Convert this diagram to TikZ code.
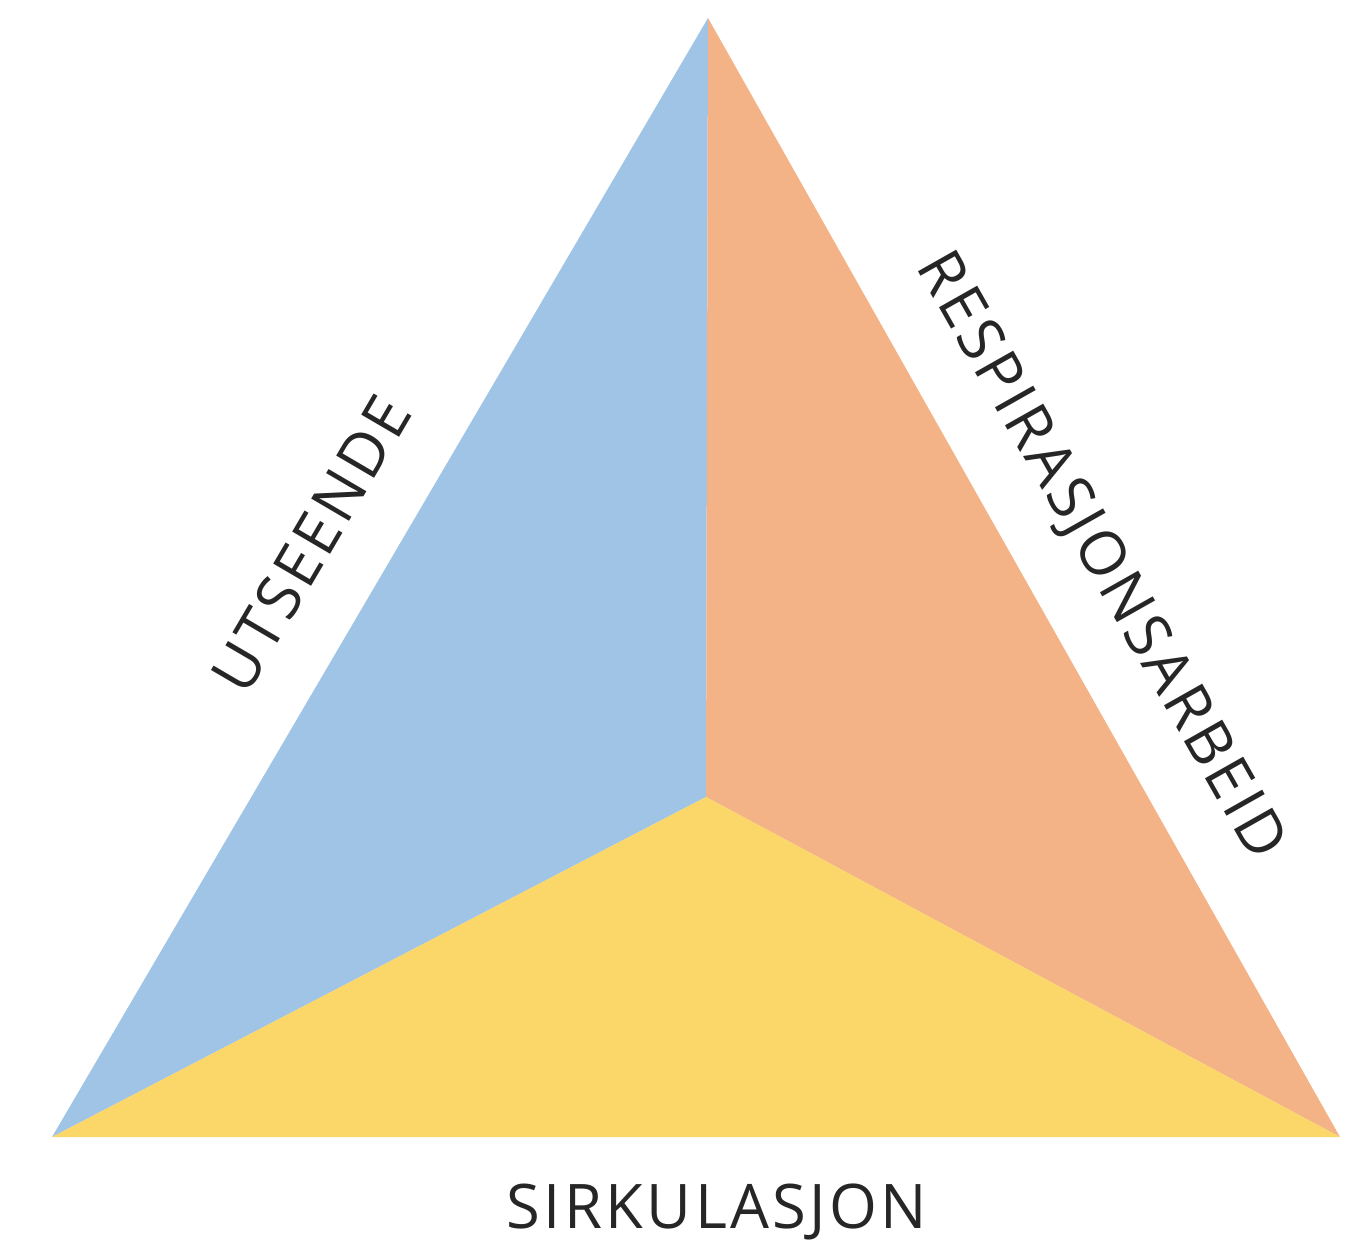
\documentclass[tikz,border=0pt]{standalone}
\usepackage{fontspec}
\setmainfont[LetterSpace=5.5]{Open Sans}
\definecolor{utblue}{HTML}{A0C4E6}
\definecolor{resporange}{HTML}{F3B387}
\definecolor{sirkyellow}{HTML}{FBD769}
\begin{document}
\begin{tikzpicture}[x=0.1mm,y=-0.1mm, font=\fontsize{17.5}{20}\selectfont, line join=round]
\tikzset{label/.style={inner sep=0pt, text=black!85}}
\useasboundingbox (0,0) rectangle (1357,1242);
\coordinate (T) at (708,18);
\coordinate (L) at (52,1137);
\coordinate (R) at (1340,1137);
\coordinate (C) at (706,797);
\fill[utblue] (T)--(C)--(L)--cycle;
\fill[resporange] (T)--(R)--(C)--cycle;
\fill[sirkyellow] (L)--(C)--(R)--cycle;
\node[label, rotate=59.6] (ut) at (311,544) {UTSEENDE};
\node[label, rotate=-60.5] (resp) at (1099,557) {RESPIRASJONSARBEID};
\node[label] (sirk) at (717,1212) {SIRKULASJON};
\end{tikzpicture}
\end{document}
